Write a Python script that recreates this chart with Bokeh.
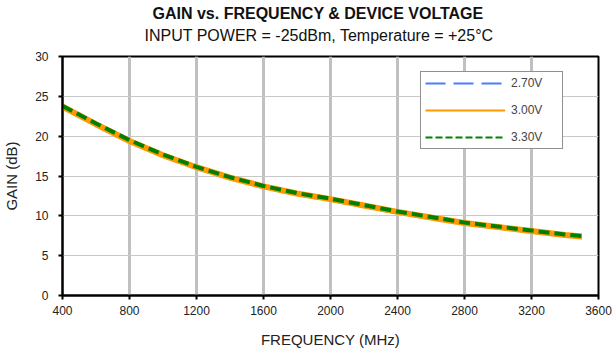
from bokeh.plotting import figure
from bokeh.models import Title, Legend, LegendItem, FixedTicker, Range1d
from bokeh.embed import file_html
from bokeh.resources import INLINE

freq = [400, 600, 800, 1000, 1200, 1400, 1600, 1800, 2000, 2200, 2400, 2600, 2800, 3000, 3200, 3400, 3500]
gain_300 = [23.7, 21.5, 19.4, 17.6, 16.1, 14.8, 13.7, 12.8, 12.1, 11.3, 10.5, 9.8, 9.1, 8.6, 8.1, 7.6, 7.4]
gain_270 = [23.5, 21.3, 19.2, 17.4, 15.9, 14.6, 13.5, 12.6, 11.9, 11.1, 10.3, 9.6, 8.9, 8.4, 7.9, 7.4, 7.2]
gain_330 = [23.8, 21.6, 19.5, 17.7, 16.15, 14.85, 13.75, 12.85, 12.15, 11.35, 10.55, 9.85, 9.15, 8.65, 8.15, 7.65, 7.45]
labels = ["2.70V", "3.00V", "3.30V"]
x_ticks = [400, 800, 1200, 1600, 2000, 2400, 2800, 3200, 3600]
y_ticks = [0, 5, 10, 15, 20, 25, 30]
title_text = "GAIN vs. FREQUENCY & DEVICE VOLTAGE"
subtitle_text = "INPUT POWER = -25dBm, Temperature = +25°C"

FONT = "Liberation Sans"

p = figure(width=612, height=350, output_backend="svg", toolbar_location=None,
           x_range=Range1d(400, 3600), y_range=Range1d(0, 30),
           min_border_left=62, min_border_right=14, min_border_top=55, min_border_bottom=55)

p.title.text = title_text
p.title.align = "left"
p.title.offset = 90
p.title.text_font = FONT
p.title.text_font_size = "16px"
p.title.text_font_style = "bold"
p.title.text_color = "#111111"
p.title.standoff = 5
# small spacer between plot frame and subtitle (closest to the frame)
p.add_layout(Title(text=" ", text_font=FONT, text_font_size="1px", standoff=10), "above")
p.add_layout(Title(text=subtitle_text, align="left", offset=82,
                   text_font=FONT, text_font_size="16px", text_font_style="normal",
                   text_color="#111111", standoff=0), "above")

p.outline_line_color = "black"
p.outline_line_width = 2

for ax in (p.xaxis[0], p.yaxis[0]):
    ax.axis_line_color = "black"
    ax.axis_line_width = 2
    ax.major_tick_line_color = "black"
    ax.major_tick_line_width = 2
    ax.major_tick_out = 4
    ax.major_tick_in = 0
    ax.minor_tick_line_color = None
    ax.major_label_text_font = FONT
    ax.major_label_text_font_size = "12px"
    ax.major_label_text_color = "#222222"
    ax.axis_label_text_font = FONT
    ax.axis_label_text_font_size = "15px"
    ax.axis_label_text_font_style = "normal"
    ax.axis_label_text_color = "#222222"

p.xaxis.ticker = FixedTicker(ticks=x_ticks)
p.yaxis.ticker = FixedTicker(ticks=y_ticks)
p.xaxis.axis_label = "FREQUENCY (MHz)"
p.yaxis.axis_label = "GAIN (dB)"
p.xaxis.major_label_standoff = 6
p.xaxis.axis_label_standoff = 13
p.yaxis.major_label_standoff = 10
p.yaxis.axis_label_standoff = 12

p.xgrid.ticker = FixedTicker(ticks=x_ticks[1:-1])
p.ygrid.ticker = FixedTicker(ticks=y_ticks[1:-1])
p.xgrid.grid_line_color = "#c0c0c0"
p.xgrid.grid_line_width = 3
p.ygrid.grid_line_color = "#c8c8c8"
p.ygrid.grid_line_width = 1

# thin strokes (also used for the legend), drawn first
l1 = p.line(freq, gain_270, line_color="#4a7cff", line_width=2, line_dash="20 8")
l2 = p.line(freq, gain_300, line_color="#ff9900", line_width=2)
l3 = p.line(freq, gain_330, line_color="#008000", line_width=2, line_dash="7 3")
# thick plot strokes on top
p.line(freq, gain_300, line_color="#ff9900", line_width=6)
p.line(freq, gain_330, line_color="#008000", line_width=4, line_dash="11 5")

legend = Legend(items=[LegendItem(label=labels[0], renderers=[l1]),
                       LegendItem(label=labels[1], renderers=[l2]),
                       LegendItem(label=labels[2], renderers=[l3])],
                location=(358, 146), glyph_width=80, glyph_height=14, label_height=14,
                spacing=13, padding=4, label_standoff=6, label_width=47,
                label_text_font=FONT, label_text_font_size="12px",
                border_line_color="#222222", border_line_width=1,
                background_fill_color="white", background_fill_alpha=1.0, margin=0)
p.add_layout(legend, "center")

open("out.html", "w").write(file_html(p, INLINE))
